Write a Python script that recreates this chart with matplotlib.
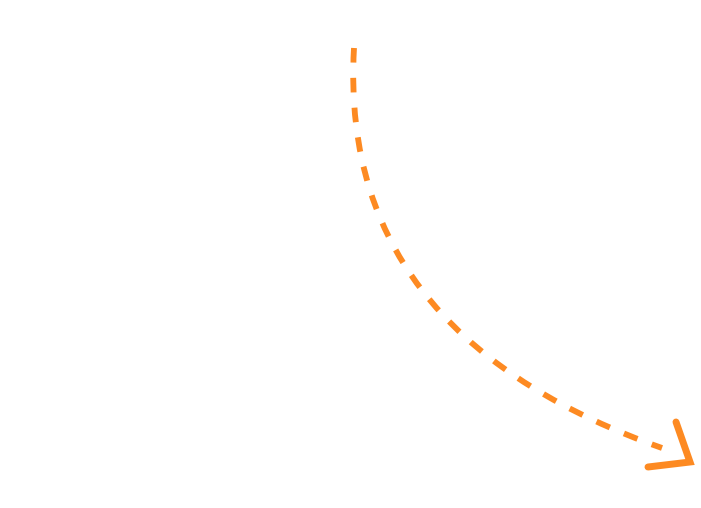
import matplotlib
matplotlib.use('Agg')
import matplotlib.pyplot as plt
from matplotlib.path import Path
from matplotlib.patches import PathPatch

plt.rcParams['lines.scale_dashes'] = False

# 曲线的贝塞尔控制点（像素坐标）
curve_x = [354, 342, 470, 662]
curve_y = [48, 260, 380, 448]

# 箭头两条边
head_x = [676, 690, 648]
head_y = [422, 462, 467]

orange = '#fd8a22'

fig = plt.figure(figsize=(7.01, 5.08), dpi=100)
ax = fig.add_axes([0, 0, 1, 1])
ax.set_xlim(0, 701)
ax.set_ylim(508, 0)
ax.axis('off')

verts = list(zip(curve_x, curve_y))
codes = [Path.MOVETO, Path.CURVE4, Path.CURVE4, Path.CURVE4]
patch = PathPatch(Path(verts, codes), facecolor='none', edgecolor=orange,
                  linewidth=4.2, linestyle=(0, (10.5, 11)), capstyle='butt')
ax.add_patch(patch)

ax.plot(head_x, head_y, color=orange, linewidth=5, solid_capstyle='round',
        solid_joinstyle='miter')

fig.savefig('out.png', dpi=100)
